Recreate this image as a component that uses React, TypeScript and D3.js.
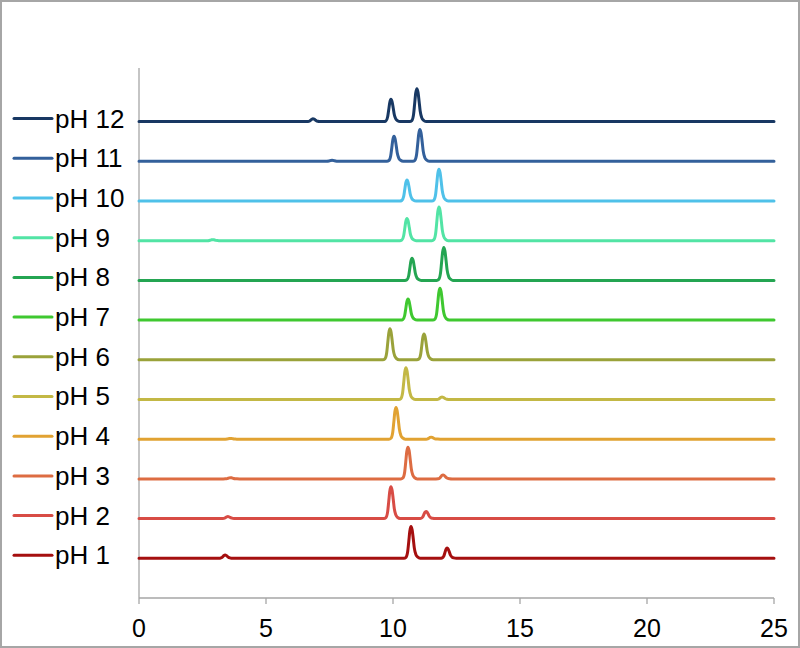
import React from "react";
import * as d3 from "d3";

// pH labels (bottom to top)
const seriesNames = ["pH 1", "pH 2", "pH 3", "pH 4", "pH 5", "pH 6", "pH 7", "pH 8", "pH 9", "pH 10", "pH 11", "pH 12"];
const seriesColors = ["#a50f0f", "#d84c45", "#dd6c42", "#e1a232", "#c3b845", "#9aa23a", "#3fc830", "#24a552", "#52e4a5", "#4fc1e9", "#33609b", "#183863"];

// peaks: [retention time (min), height (offset units)]
const peaksPH1 = [[3.39, 0.08], [10.71, 0.8], [12.13, 0.26]];
const peaksPH2 = [[3.5, 0.05], [9.92, 0.8], [11.3, 0.18]];
const peaksPH3 = [[3.6, 0.03], [10.59, 0.8], [11.97, 0.1]];
const peaksPH4 = [[3.6, 0.02], [10.12, 0.8], [11.5, 0.05]];
const peaksPH5 = [[10.51, 0.8], [11.93, 0.06]];
const peaksPH6 = [[9.88, 0.78], [11.22, 0.65]];
const peaksPH7 = [[10.59, 0.53], [11.85, 0.8]];
const peaksPH8 = [[10.75, 0.56], [12.0, 0.83]];
const peaksPH9 = [[2.9, 0.025], [10.55, 0.56], [11.81, 0.85]];
const peaksPH10 = [[10.55, 0.53], [11.81, 0.8]];
const peaksPH11 = [[7.6, 0.025], [10.04, 0.63], [11.06, 0.8]];
const peaksPH12 = [[6.85, 0.07], [9.92, 0.56], [10.94, 0.83]];
const allPeaks = [peaksPH1, peaksPH2, peaksPH3, peaksPH4, peaksPH5, peaksPH6, peaksPH7, peaksPH8, peaksPH9, peaksPH10, peaksPH11, peaksPH12];

// peak profile: [time offset, relative height]
const peakProfile = [[-0.28, 0], [-0.2, 0.03], [-0.13, 0.22], [-0.09, 0.52], [-0.045, 0.87], [0, 1], [0.045, 0.89], [0.09, 0.6], [0.13, 0.32], [0.19, 0.12], [0.26, 0.04], [0.36, 0]];

const xTicks = [0, 5, 10, 15, 20, 25];
const runStart = 0;
const runEnd = 25;

export default function App() {
  const W = 800, H = 648;
  const x = d3.scaleLinear().domain([0, 25]).range([139, 774]);
  const y = d3.scaleLinear().domain([0, 13.35]).range([598, 68]);
  const line = d3.line<number[]>().x(d => x(d[0])).y(d => y(d[1])).curve(d3.curveMonotoneX);

  const paths = allPeaks.map((peaks, i) => {
    const base = i + 1;
    const pts: number[][] = [[runStart, base]];
    peaks.forEach(([t, h]) => {
      peakProfile.forEach(([dt, r]) => pts.push([t + dt, base + h * r]));
    });
    pts.push([runEnd, base]);
    return line(pts) as string;
  });

  return (
    <svg width={W} height={H} style={{ position: "absolute", left: 0, top: 0, background: "#fff" }} fontFamily="'Liberation Sans', Arial, sans-serif">
      <rect x={1} y={1} width={W - 2} height={H - 2} fill="#fff" stroke="#a6a6a6" strokeWidth={2} />
      {/* axes */}
      <line x1={x(0)} x2={x(0)} y1={68} y2={598} stroke="#a6a6a6" strokeWidth={1.3} />
      <line x1={x(0)} x2={x(25)} y1={598} y2={598} stroke="#a6a6a6" strokeWidth={1.3} />
      {xTicks.map(t => (
        <g key={t}>
          <line x1={x(t)} x2={x(t)} y1={598} y2={604} stroke="#a6a6a6" strokeWidth={1.3} />
          <text x={x(t)} y={637} textAnchor="middle" fontSize={25} fill="#000">{t}</text>
        </g>
      ))}
      {paths.map((p, i) => (
        <path key={i} d={p} fill="none" stroke={seriesColors[i]} strokeWidth={3} strokeLinejoin="round" strokeLinecap="round" />
      ))}
      {seriesNames.map((n, i) => {
        const ly = y(i + 1) - 3;
        return (
          <g key={n}>
            <line x1={14} x2={52} y1={ly} y2={ly} stroke={seriesColors[i]} strokeWidth={3} strokeLinecap="round" />
            <text x={55} y={ly + 9} fontSize={26} fill="#000">{n}</text>
          </g>
        );
      })}
    </svg>
  );
}
